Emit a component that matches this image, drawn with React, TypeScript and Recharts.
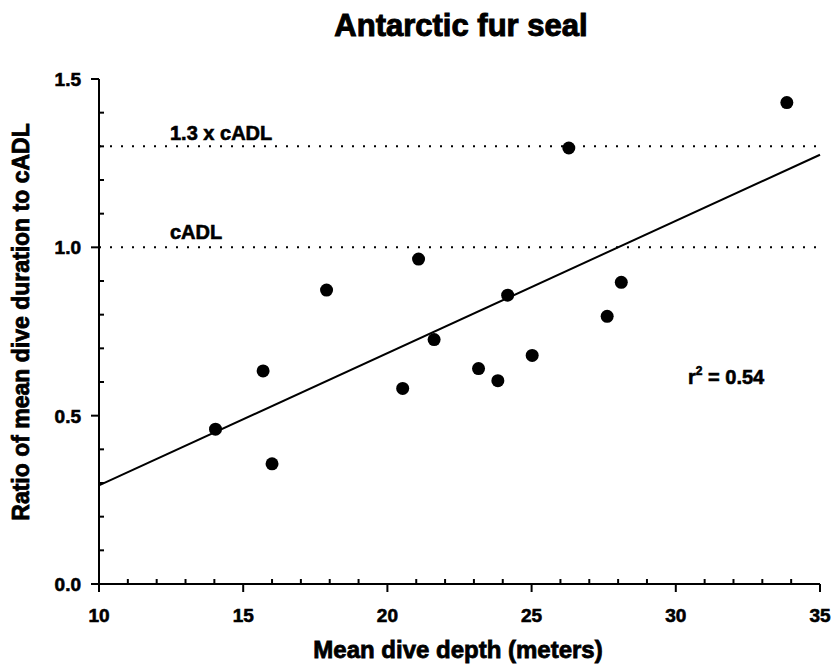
import { ReferenceLine, Scatter, ScatterChart, XAxis, YAxis } from "recharts"

const FONT = "'Liberation Sans', Arial, Helvetica, sans-serif"

// mean dive depth (m) and ratio of mean dive duration to cADL, one entry per seal
const depth = [14.04, 15.69, 16.0, 17.89, 20.53, 21.08, 21.62, 23.16, 23.83, 24.17, 25.02, 26.29, 27.62, 28.11, 33.85]
const ratio = [0.46, 0.633, 0.357, 0.873, 0.581, 0.965, 0.726, 0.64, 0.604, 0.858, 0.679, 1.295, 0.795, 0.896, 1.43]

// regression line end points
const fitX = [10, 35]
const fitY = [0.293, 1.275]

const xTicks = [10, 11, 12, 13, 14, 15, 16, 17, 18, 19, 20, 21, 22, 23, 24, 25, 26, 27, 28, 29, 30, 31, 32, 33, 34, 35]
const yTicks = [0, 0.1, 0.2, 0.3, 0.4, 0.5, 0.6, 0.7, 0.8, 0.9, 1.0, 1.1, 1.2, 1.3, 1.4, 1.5]

const cadl = 1.0
const cadl13 = 1.3

const points = depth.map((d, i) => ({ x: d, y: ratio[i] }))

// bold text, slightly thickened to match the heavy face of the original
const heavy = { fontFamily: FONT, fontWeight: "bold" as const, fill: "#000", stroke: "#000", strokeWidth: 0.6 }

function XTick({ x, y, payload }: any) {
  const v = payload.value
  const major = v % 5 === 0
  return (
    <g>
      <line x1={x} x2={x} y1={y} y2={major ? y + 8 : y - 5} stroke="#000" strokeWidth={2} />
      {major && (
        <text x={x} y={y + 38} textAnchor="middle" fontSize={19} {...heavy}>
          {v}
        </text>
      )}
    </g>
  )
}

function YTick({ x, y, payload }: any) {
  const v = payload.value
  const major = Math.abs(v * 2 - Math.round(v * 2)) < 1e-6
  return (
    <g>
      <line x1={x} x2={major ? x - 8 : x + 5} y1={y} y2={y} stroke="#000" strokeWidth={2} />
      {major && (
        <text x={x - 18} y={y + 7} textAnchor="end" fontSize={19} {...heavy}>
          {v.toFixed(1)}
        </text>
      )}
    </g>
  )
}

export default function App() {
  return (
    <div style={{ position: "absolute", left: 0, top: 0, width: 834, height: 670, background: "#fff" }}>
      <ScatterChart width={834} height={670} margin={{ top: 79, right: 14, bottom: 0, left: 0 }}>
        <XAxis
          type="number"
          dataKey="x"
          domain={[10, 35]}
          ticks={xTicks}
          interval={0}
          height={86}
          tickSize={0}
          tickMargin={0}
          tickLine={false}
          axisLine={{ stroke: "#000", strokeWidth: 2 }}
          tick={<XTick />}
        />
        <YAxis
          type="number"
          dataKey="y"
          domain={[0, 1.5]}
          ticks={yTicks}
          interval={0}
          width={99}
          tickSize={0}
          tickMargin={0}
          tickLine={false}
          axisLine={{ stroke: "#000", strokeWidth: 2 }}
          tick={<YTick />}
        />
        <ReferenceLine y={cadl13} stroke="#000" strokeWidth={2} strokeDasharray="2 9" />
        <ReferenceLine y={cadl} stroke="#000" strokeWidth={2} strokeDasharray="2 9" />
        <ReferenceLine
          segment={[
            { x: fitX[0], y: fitY[0] },
            { x: fitX[1], y: fitY[1] },
          ]}
          stroke="#000"
          strokeWidth={2}
          ifOverflow="visible"
        />
        <Scatter
          data={points}
          fill="#000"
          isAnimationActive={false}
          shape={(p: any) => <circle cx={p.cx} cy={p.cy} r={6.5} fill="#000" />}
        />
      </ScatterChart>
      <svg width={834} height={670} style={{ position: "absolute", left: 0, top: 0, pointerEvents: "none" }}>
        <g {...heavy}>
          <text x={461} y={36} textAnchor="middle" fontSize={31} strokeWidth={1}>Antarctic fur seal</text>
          <text x={458} y={658} textAnchor="middle" fontSize={24} strokeWidth={0.8}>Mean dive depth (meters)</text>
          <text transform="translate(29,322) rotate(-90)" textAnchor="middle" fontSize={23} strokeWidth={0.8}>
            Ratio of mean dive duration to cADL
          </text>
          <text x={170} y={140} fontSize={20}>1.3 x cADL</text>
          <text x={170} y={239} fontSize={20}>cADL</text>
          <text x={688} y={384} fontSize={20}>
            r<tspan fontSize={12} dy={-9}>2</tspan>
            <tspan dy={9}> = 0.54</tspan>
          </text>
        </g>
      </svg>
    </div>
  )
}
